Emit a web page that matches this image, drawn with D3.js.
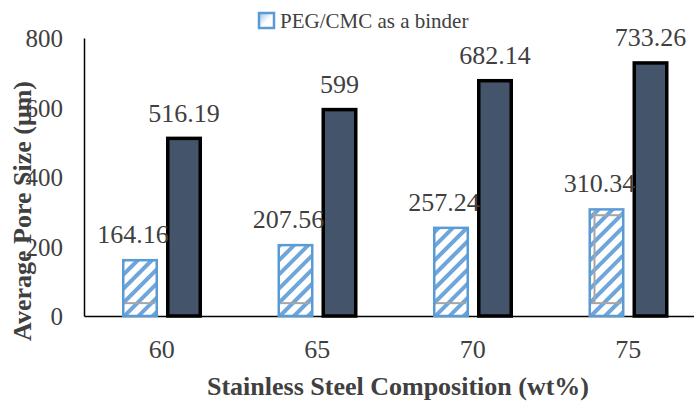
<!DOCTYPE html>
<html>
<head>
<meta charset="utf-8">
<script src="https://cdn.jsdelivr.net/npm/d3@7"></script>
<style>
  html, body { margin: 0; padding: 0; background: #fff; }
  svg { display: block; }
  svg text { font-family: 'Liberation Serif', 'Times New Roman', serif !important; }
</style>
</head>
<body>
<svg id="chart" width="694" height="401"></svg>
<script>
// ---- data ----
const categories = ["60", "65", "70", "75"];
const seriesNames = ["PEG/CMC as a binder", "Other binder"];
const pegValues = [164.16, 207.56, 257.24, 310.34];
const otherValues = [516.19, 599, 682.14, 733.26];
const pegLabels = ["164.16", "207.56", "257.24", "310.34"];
const otherLabels = ["516.19", "599", "682.14", "733.26"];
const capLow = [37, 37, 37, 37];
const capHigh = [null, null, null, 290];
const yTicks = [0, 200, 400, 600, 800];

// ---- layout ----
const svg = d3.select("#chart");
const pLeft = 84, pRight = 706, pTop = 38, pBottom = 316;
const serif = "'Liberation Serif', 'Times New Roman', serif";

const x = d3.scaleBand().domain(categories).range([pLeft, pRight]).padding(0);
const xs = d3.scaleBand().domain([0, 1]).range([38, 118]).paddingInner(0.182).paddingOuter(0);
const y = d3.scaleLinear().domain([0, 800]).range([pBottom, pTop]);

const defs = svg.append("defs");
const pat = defs.append("pattern")
  .attr("id", "hatch").attr("patternUnits", "userSpaceOnUse")
  .attr("width", 10).attr("height", 10)
  .attr("patternTransform", "rotate(45)");
pat.append("rect").attr("width", 10).attr("height", 10).attr("fill", "#ffffff");
pat.append("rect").attr("x", 0).attr("width", 4).attr("height", 10).attr("fill", "#6ea6db");

const lg = defs.append("linearGradient").attr("id", "legGrad")
  .attr("x1", 0).attr("y1", 0).attr("x2", 1).attr("y2", 1);
lg.append("stop").attr("offset", "0%").attr("stop-color", "#9cc3e8");
lg.append("stop").attr("offset", "55%").attr("stop-color", "#ffffff");
lg.append("stop").attr("offset", "100%").attr("stop-color", "#ffffff");

// ---- axes ----
const yAxis = d3.axisLeft(y).tickValues(yTicks).tickSize(0).tickPadding(21);
const gy = svg.append("g").attr("transform", `translate(${pLeft},0)`).call(yAxis);
gy.attr("font-family", null);
gy.select(".domain").attr("stroke", "#000").attr("stroke-width", 1.5);
gy.selectAll("text").attr("font-size", 25).attr("fill", "#404040")
  .style("font-family", serif).attr("dy", "0.34em");

const xAxis = d3.axisBottom(x).tickSize(0).tickPadding(0);
const gx = svg.append("g").attr("transform", `translate(0,${pBottom})`).call(xAxis);
gx.attr("font-family", null);
gx.select(".domain").attr("stroke", "#000").attr("stroke-width", 1.5);
gx.selectAll("text").attr("font-size", 26).attr("fill", "#404040")
  .style("font-family", serif).attr("dy", null).attr("y", 42);

// ---- bars ----
const groups = svg.append("g").selectAll("g").data(categories).join("g")
  .attr("transform", d => `translate(${x(d)},0)`);

// patterned series
groups.append("rect")
  .attr("x", xs(0) + 1.25).attr("width", xs.bandwidth() - 2.5)
  .attr("y", (d, i) => y(pegValues[i]) + 1.25)
  .attr("height", (d, i) => y(0) - y(pegValues[i]) - 1.25)
  .attr("fill", "url(#hatch)").attr("stroke", "#5b9bd5").attr("stroke-width", 2.5);

// gray cap lines
groups.append("line")
  .attr("x1", xs(0) + 3).attr("x2", xs(0) + xs.bandwidth() - 3)
  .attr("y1", (d, i) => y(capLow[i])).attr("y2", (d, i) => y(capLow[i]))
  .attr("stroke", "#a5a5a5").attr("stroke-width", 2);
groups.filter((d, i) => capHigh[i] !== null).each(function (d) {
  const i = categories.indexOf(d);
  const g = d3.select(this);
  g.append("line")
    .attr("x1", xs(0) + 5).attr("x2", xs(0) + xs.bandwidth() - 3)
    .attr("y1", y(capHigh[i])).attr("y2", y(capHigh[i]))
    .attr("stroke", "#a5a5a5").attr("stroke-width", 2);
  g.append("line")
    .attr("x1", xs(0) + 6).attr("x2", xs(0) + 6)
    .attr("y1", y(pegValues[i]) + 3).attr("y2", y(capLow[i]))
    .attr("stroke", "#a5a5a5").attr("stroke-width", 2);
});

// dark series
groups.append("rect")
  .attr("x", xs(1) + 1.75).attr("width", xs.bandwidth() - 3.5)
  .attr("y", (d, i) => y(otherValues[i]) + 1.75)
  .attr("height", (d, i) => y(0) - y(otherValues[i]) - 1.75)
  .attr("fill", "#44546a").attr("stroke", "#000").attr("stroke-width", 3.5);

// value labels
groups.append("text")
  .attr("x", xs(0) + xs.bandwidth() / 2 - 7)
  .attr("y", (d, i) => y(pegValues[i]) - 16)
  .attr("text-anchor", "middle").attr("font-size", 26).attr("fill", "#404040")
  .style("font-family", serif)
  .text((d, i) => pegLabels[i]);
groups.append("text")
  .attr("x", xs(1) + xs.bandwidth() / 2)
  .attr("y", (d, i) => y(otherValues[i]) - 15)
  .attr("text-anchor", "middle").attr("font-size", 26).attr("fill", "#404040")
  .style("font-family", serif)
  .text((d, i) => otherLabels[i]);

// ---- titles ----
svg.append("text")
  .attr("x", 398).attr("y", 395)
  .attr("text-anchor", "middle").attr("font-size", 26).attr("font-weight", "bold")
  .style("font-family", serif)
  .attr("fill", "#404040").text("Stainless Steel Composition (wt%)");
svg.append("text")
  .attr("transform", "translate(31,211) rotate(-90)")
  .attr("text-anchor", "middle").attr("font-size", 26).attr("font-weight", "bold")
  .style("font-family", serif)
  .attr("fill", "#404040").text("Average Pore Size (μm)");

// ---- legend ----
const leg = svg.append("g").attr("transform", "translate(258,12)");
leg.append("rect").attr("x", 1).attr("y", 1).attr("width", 15).attr("height", 15)
  .attr("fill", "url(#legGrad)").attr("stroke", "#5b9bd5").attr("stroke-width", 2.5);
leg.append("text").attr("x", 22).attr("y", 16)
  .attr("font-size", 21).attr("fill", "#404040").attr("xml:space", "preserve")
  .style("font-family", serif)
  .text(seriesNames[0]);
</script>
</body>
</html>
